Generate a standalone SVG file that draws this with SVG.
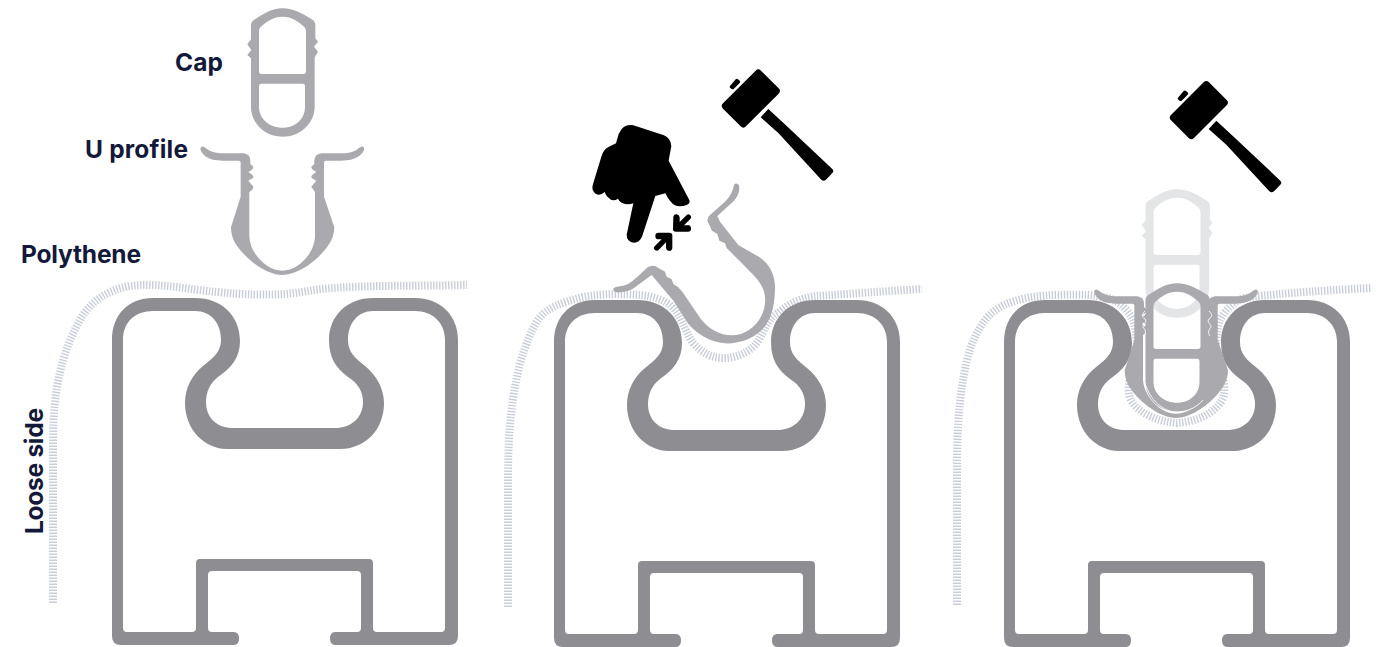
<svg xmlns="http://www.w3.org/2000/svg" width="1389" height="647" viewBox="0 0 1389 647">
<style>
.lbl{font-family:"Inter","Liberation Sans",sans-serif;font-weight:700;font-size:24.500px;fill:#14193a}
.hatch{fill:none;stroke:#c8cdd8;stroke-width:8;stroke-dasharray:1.4 1.6}
.profile{fill:#8e8d92;fill-rule:evenodd}
.seal{fill:#a9a9ae;fill-rule:evenodd}
.ghost{fill:#e4e5e7;fill-rule:evenodd}
.blk{fill:#000}
</style>
<defs>
<path id="rail" d="M112 636V340C112 315 128 298 153 298H195C222 298 240 316 240 341C240 358 231 368 218 377C210 383 206 392 206 402C206 418 217 428 233 428H335C351 428 363 418 363 402C363 392 358 383 348 377C336 368 329 358 329 340C329 316 347 298 373 298H415C440 298 458 315 458 340V636Q458 645 449 645H335Q330 645 330 638.5Q330 632 335 632H357Q361 632 361 628V575Q361 571 357 571H212Q208 571 208 575V628Q208 632 212 632H234Q239 632 239 638.5Q239 645 234 645H121Q112 645 112 636ZM123 628V340C123 322 135 311 153 311H195C211 311 221 323 221 340C221 352 213 358 203 366C192 375 185 388 185 403C185 430 205 449 227 449H340C365 449 384 430 384 403C384 388 376 375 365 366C355 358 348 352 348 340C348 323 358 311 373 311H415C433 311 445 323 445 340V628Q445 632 441 632H377Q373 632 373 628V563Q373 559 369 559H200Q196 559 196 563V628Q196 632 192 632H127Q123 632 123 628Z"/>
<g id="cap">
<path transform="translate(240 0) scale(.3333)" d="M128 25C160 25 190 42 215 58Q226 64 226 75V115L234 125L222 140L234 155L224 172V320C224 370 180 410 128 410C75 410 33 370 33 320V175L22 165L34 150L22 133L33 118V75Q33 64 45 58C70 42 95 25 128 25ZM128 50C100 50 80 65 65 78Q57 84 57 92V214Q57 222 65 222H190Q198 222 198 214V92Q198 84 190 78C175 65 155 50 128 50ZM57 258V320C57 358 90 383 128 383C165 383 195 358 195 320V258Q195 251 188 251H64Q57 251 57 258Z"/>
</g>
<g id="uprof">
<path transform="translate(195 140) scale(.3333)" d="M18 22Q22 16 32 24C45 35 60 40 85 40H145Q165 42 166 60V72L175 80Q176 88 160 96Q176 105 175 113L160 122L175 140Q176 148 163 156V290C165 340 215 392 262 392C310 392 358 340 360 290V156L349 140L364 122L349 113Q348 105 364 96Q348 88 349 80L358 72V60Q360 42 380 40H440C465 40 480 35 492 24Q502 16 506 22Q512 30 495 46C480 58 460 62 440 62H392Q387 62 387 68V170L418 262C418 280 412 300 400 316C370 360 310 405 262 405C215 405 155 360 125 316C113 300 108 280 108 262L137 170V68Q137 62 132 62H85C60 62 40 58 28 46Q12 30 18 22Z"/>
</g>
<g id="hammer">
<path transform="translate(715 65) scale(.3333)" d="M122 17Q130 9 138 17L191 70Q199 78 191 86L93 184Q85 192 77 184L24 131Q16 123 24 115Z"/>
<path transform="translate(715 65) scale(.3333)" d="M160 132L212 180L352 312Q358 318 352 324L333 344Q326 350 319 344L190 204L137 157Z"/>
<path transform="translate(715 65) scale(.3333)" d="M45 63L62 43Q65 40 69 43L75 48Q77 51 74 54L56 72Q53 74 50 72L45 68Q43 65 45 63Z"/>
</g>
</defs>

<g id="polythene">
<path class="hatch" d="M53 603V440C53 390 62 352 80 320C90 302 107 290 130 286C160 282 190 290 217 292C245 295 265 295 283 294C300 293 316 289 333 288C375 285 420 286 467 285"/>
<path class="hatch" d="M508 607V480C508 440 510 405 520 363C526 345 530 332 538 320C546 308 560 303 583 297C605 293 625 294 640 295C652 296 665 300 672 307C682 317 684 330 693 343C702 353 712 358 723 358C735 358 745 354 753 347C763 338 765 320 778 313C790 302 805 297 817 296C850 294 885 291 922 289"/>
<path class="hatch" d="M957 605V470C957 435 958 400 967 360C971 345 975 335 983 323C990 313 1000 305 1015 301C1030 296 1050 295 1060 295C1080 294 1095 295 1108 298C1118 300 1128 310 1133 320C1137 332 1138 345 1136 358C1132 372 1126 385 1130 398C1134 408 1150 421 1177 423C1204 421 1219 408 1223 398C1227 385 1221 372 1217 358C1215 345 1216 332 1220 320C1225 310 1235 300 1245 298C1262 295 1310 291 1372 288"/>
</g>

<g id="rail-1"><use href="#rail" class="profile"/></g>
<g id="rail-2"><use href="#rail" class="profile" transform="translate(442 2)"/></g>
<g id="rail-3"><use href="#rail" class="profile" transform="translate(892 2)"/></g>

<g id="cap-1"><use href="#cap" class="seal"/></g>
<g id="u-profile-1"><use href="#uprof" class="seal"/></g>

<g id="u-profile-2">
<path class="seal" transform="translate(610 180) scale(.3333)" d="M372 14Q380 6 387 16C391 35 381 55 365 69L322 108L330 125L385 195C410 212 440 222 465 245C485 265 497 295 495 330C493 380 485 420 455 450C425 480 380 492 345 490C300 485 265 465 235 432L190 362L125 285L72 324C55 335 38 337 18 337Q8 335 10 326Q14 320 35 318C55 315 65 305 85 288L113 262Q130 252 145 264L165 275L170 290L185 298L190 312L205 322L219 338L272 416C295 446 330 466 365 466C403 466 436 443 454 408C468 380 469 347 458 324C446 297 421 277 396 250L350 204L345 190L328 182L322 162L306 152L292 122Q293 110 300 105L345 65C360 50 368 35 372 14Z"/>
</g>

<g id="hand">
<path class="blk" transform="translate(540 60) scale(.3333)" d="M245 207Q258 192 280 196L372 226Q392 234 394 258L386 302L448 420Q452 430 440 435Q420 442 405 436Q390 428 376 400L346 408L306 530Q298 548 282 548Q260 546 260 524L280 430Q262 436 245 428Q236 422 234 416Q218 428 204 412Q196 404 194 396Q182 408 168 402Q154 394 158 376L184 290Q190 270 204 262L228 250L236 222Z"/>
<path class="blk" transform="translate(610 180) scale(.3333)" d="M190 110Q192 102 200 103Q208 104 209 112V126L231 104Q237 100 243 108Q245 113 241 117L222 136H236Q243 137 243 146Q243 155 234 155H197Q189 155 189 147Z"/>
<path class="blk" transform="translate(610 180) scale(.3333)" d="M187 204Q186 213 177 213Q169 212 168 204V187L145 211Q138 215 132 207Q130 203 134 199L155 178H143Q136 177 136 167Q136 158 145 158H178Q187 158 187 166Z"/>
</g>

<g id="hammer-2"><use href="#hammer" class="blk"/></g>
<g id="hammer-3"><use href="#hammer" class="blk" transform="translate(448 11.700)"/></g>

<g id="cap-ghost"><use href="#cap" class="ghost" transform="translate(894.500 181)"/></g>
<g id="u-profile-3"><use href="#uprof" class="seal" transform="translate(893.700 143)"/></g>
<g id="cap-3"><use href="#cap" class="seal" transform="translate(894.500 275)"/></g>
<path id="fit-line" fill="none" stroke="#fff" stroke-width=".9" d="M1145 311C1141 315 1142 317 1145 319C1148 322 1142 325 1143 327C1145 330 1147 332 1144 336M1209 311C1213 315 1212 317 1209 319C1206 322 1212 325 1211 327C1209 330 1207 332 1210 336M1145 383C1150 400 1163 412 1177 412C1188 412 1197 407 1203 400"/>

<g id="labels">
<text class="lbl" x="175" y="71" textLength="48">Cap</text>
<text class="lbl" x="85" y="158" textLength="103">U profile</text>
<text class="lbl" x="21" y="263" textLength="120">Polythene</text>
<text class="lbl" transform="translate(43 534) rotate(-90)" textLength="126">Loose side</text>
</g>
</svg>
